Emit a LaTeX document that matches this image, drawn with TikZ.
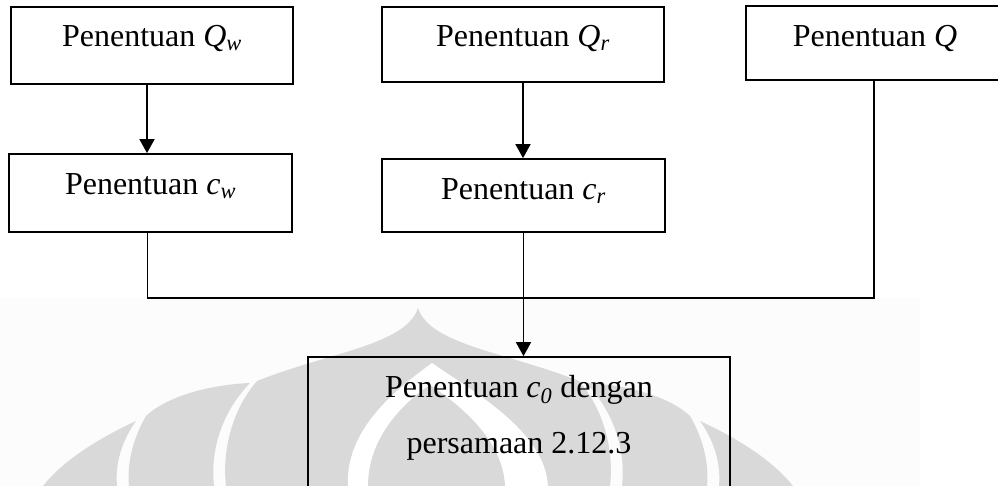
\documentclass[tikz,border=0pt]{standalone}
\usepackage{fontspec}
\setmainfont{Liberation Serif}[
  UprightFont={Liberation Serif},
  ItalicFont={Liberation Serif Italic},
  BoldFont={Liberation Serif Bold}]
\newcommand{\ivar}[2]{{\itshape #1}\textsubscript{\itshape #2}}
\usetikzlibrary{arrows.meta}
\begin{document}
\begin{tikzpicture}[x=1pt,y=-1pt,
  box/.style={draw=black, line width=1.8pt, inner sep=0pt, anchor=base,
              font=\fontsize{32}{56}\selectfont},
  link/.style={draw=black, line width=1.8pt},
  arr/.style={link, -{Triangle[width=15pt,length=14pt]}},
  wm/.style={fill=black!15, draw=none}]
\useasboundingbox (0,0) rectangle (998,486);

% faint watermark emblem behind the lower part
\fill[black!1.2] (0,298) rectangle (920,486);
\fill[wm] (418,308) .. controls (406,345) and (330,352) .. (257,381)
  .. controls (232,410) and (222,450) .. (226,486) -- (610,486)
  .. controls (614,450) and (604,410) .. (579,381)
  .. controls (506,352) and (430,345) .. (418,308) -- cycle;
\fill[white] (432,363) .. controls (395,390) and (345,430) .. (348,486)
  -- (548,486) .. controls (545,430) and (470,390) .. (432,363) -- cycle;
\fill[wm] (430,385) .. controls (400,405) and (368,440) .. (368,486)
  -- (505,486) .. controls (503,440) and (460,405) .. (430,385) -- cycle;
\foreach \flip in {1,-1}{
  \begin{scope}[xshift={(1-\flip)*418pt}, xscale=\flip]
    \fill[wm] (250,383) .. controls (205,385) and (165,398) .. (146,416)
      .. controls (132,440) and (127,465) .. (129,486) -- (214,486)
      .. controls (210,450) and (222,412) .. (250,383) -- cycle;
    \fill[wm] (43,486) .. controls (62,462) and (95,440) .. (136,421)
      .. controls (121,442) and (115,465) .. (117,486) -- cycle;
  \end{scope}
}

% process boxes
\node[box, minimum width=282pt, text height=40pt, text depth=37pt] (qw) at (152,47)
  {Penentuan \ivar{Q}{w}};
\node[box, minimum width=282pt, text height=40pt, text depth=35pt] (qr) at (523,47)
  {Penentuan \ivar{Q}{r}};
\node[box, minimum width=258pt, text height=41pt, text depth=33pt] (q) at (875,47)
  {Penentuan {\itshape Q}};
\node[box, minimum width=283pt, text height=41pt, text depth=37pt] (cw) at (150.5,195)
  {Penentuan \ivar{c}{w}};
\node[box, minimum width=283pt, text height=41pt, text depth=32pt] (cr) at (523.5,200)
  {Penentuan \ivar{c}{r}};
\node[box, minimum width=422pt, text height=40pt, text depth=113pt] (c0) at (519,397)
  {\vtop{\hbox to 422pt{\hfil Penentuan \ivar{c}{0} dengan\hfil}
         \hbox to 422pt{\hfil persamaan 2.12.3\hfil}}};

% connectors
\coordinate (j) at (cr.south |- 0,298);
\draw[arr] ([xshift=-5pt]qw.south) -- ([xshift=-5pt]qw.south |- cw.north);
\draw[arr] (qr.south) -- (qr.south |- cr.north);
\draw[link] ([xshift=-3pt]cw.south) |- (j);
\draw[link] ([xshift=-1pt]q.south) |- (j);
\draw[arr] (cr.south) -- (cr.south |- c0.north);
\end{tikzpicture}
\end{document}
